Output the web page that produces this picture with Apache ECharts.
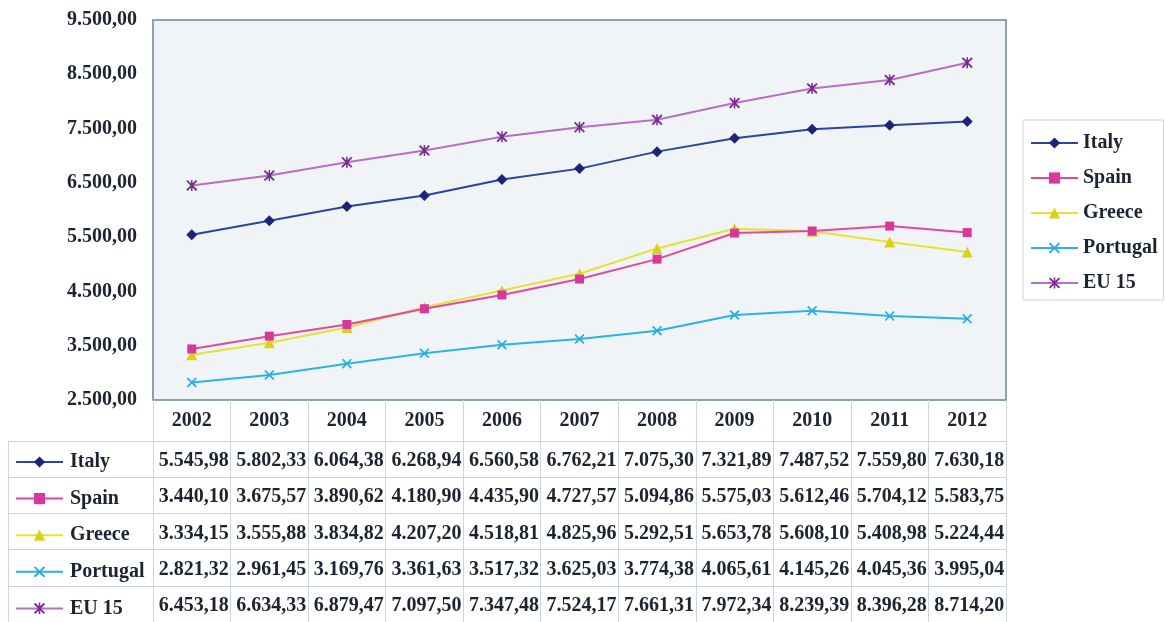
<!DOCTYPE html>
<html><head><meta charset="utf-8">
<script src="https://cdn.jsdelivr.net/npm/echarts@6/dist/echarts.min.js"></script>
<style>html,body{margin:0;padding:0;background:#fff}#c{width:1165px;height:622px}</style>
</head><body><div id="c"></div>
<script>
const years = ['2002','2003','2004','2005','2006','2007','2008','2009','2010','2011','2012'];
const seriesNames = ['Italy','Spain','Greece','Portugal','EU 15'];
const italy    = [5545.98,5802.33,6064.38,6268.94,6560.58,6762.21,7075.30,7321.89,7487.52,7559.80,7630.18];
const spain    = [3440.10,3675.57,3890.62,4180.90,4435.90,4727.57,5094.86,5575.03,5612.46,5704.12,5583.75];
const greece   = [3334.15,3555.88,3834.82,4207.20,4518.81,4825.96,5292.51,5653.78,5608.10,5408.98,5224.44];
const portugal = [2821.32,2961.45,3169.76,3361.63,3517.32,3625.03,3774.38,4065.61,4145.26,4045.36,3995.04];
const eu15     = [6453.18,6634.33,6879.47,7097.50,7347.48,7524.17,7661.31,7972.34,8239.39,8396.28,8714.20];
const yMin = 2500, yMax = 9500, yStep = 1000;

const allValues = [italy, spain, greece, portugal, eu15];
const lineColors = ['#2c44a0','#e2489f','#e6e132','#2ab4e4','#b56fc4'];
const markColors = ['#1b2478','#d8389a','#d8d21a','#22aee0','#7a2c90'];
const symbols = [
  'diamond',
  'rect',
  'triangle',
  'path://M0,1.2L1.2,0L5,3.8L8.8,0L10,1.2L6.2,5L10,8.8L8.8,10L5,6.2L1.2,10L0,8.8L3.8,5Z',
  'path://M0,1.2L1.2,0L5,3.8L8.8,0L10,1.2L6.2,5L10,8.8L8.8,10L5,6.2L1.2,10L0,8.8L3.8,5Z M4.3,0L5.7,0L5.7,10L4.3,10Z'
];
const symSizes = [11, 9, 11, 10, 11];

function fmt(v){
  const s = v.toFixed(2).split('.');
  return s[0].replace(/\B(?=(\d{3})+(?!\d))/g,'.') + ',' + s[1];
}
const FONT = 'Liberation Serif';
const TXT = '#1b2430';
const GRIDLINE = '#c9d6e2';
const FW = 'bold';

const tableData = [];
allValues.forEach((arr, r) => arr.forEach((v, c) => tableData.push([c, r, v])));

const chart = echarts.init(document.getElementById('c'), null, {renderer:'canvas'});
const lineSeries = seriesNames.map((n, i) => ({
  name: n, type: 'line', xAxisIndex: 0, yAxisIndex: 0,
  data: allValues[i], symbol: symbols[i], symbolSize: symSizes[i],
  showSymbol: true,
  lineStyle: {color: lineColors[i], width: 2},
  itemStyle: {color: markColors[i], borderWidth: 0},
  emphasis: {disabled: true}, animation: false, z: 3 + (4 - i)
}));

chart.setOption({
  animation: false,
  textStyle: {fontFamily: FONT},
  grid: [
    {left: 153, top: 20, width: 853, height: 380, show: true, backgroundColor: '#f1f4f6', borderColor: '#8aa2b4', borderWidth: 2},
    {left: 153, top: 441, width: 853, height: 183, show: false},
    {left: 8, top: 441, width: 145, height: 183, show: false}
  ],
  xAxis: [
    {gridIndex: 0, type: 'category', data: years, boundaryGap: true,
     axisLine: {show: false},
     axisTick: {show: true, interval: 0, length: 41, lineStyle: {color: GRIDLINE, width: 1}},
     axisLabel: {margin: 11, fontSize: 20, color: TXT, fontFamily: FONT, fontWeight: FW, interval: 0},
     splitLine: {show: false}},
    {gridIndex: 1, type: 'category', data: years, boundaryGap: true,
     axisLine: {show: false}, axisTick: {show: false}, axisLabel: {show: false},
     splitLine: {show: true, interval: 0, lineStyle: {color: GRIDLINE, width: 1}}},
    {gridIndex: 2, type: 'category', data: ['series'], boundaryGap: true,
     axisLine: {show: false}, axisTick: {show: false}, axisLabel: {show: false},
     splitLine: {show: true, interval: 0, lineStyle: {color: GRIDLINE, width: 1}}}
  ],
  yAxis: [
    {gridIndex: 0, type: 'value', min: yMin, max: yMax, interval: yStep,
     axisLine: {show: false}, axisTick: {show: false}, splitLine: {show: false},
     axisLabel: {margin: 16, fontSize: 20, color: TXT, fontFamily: FONT, fontWeight: FW, formatter: v => fmt(v)}},
    {gridIndex: 1, type: 'category', data: seriesNames, inverse: true, boundaryGap: true,
     axisLine: {show: false}, axisTick: {show: false}, axisLabel: {show: false},
     splitLine: {show: true, interval: 0, lineStyle: {color: GRIDLINE, width: 1}}},
    {gridIndex: 2, type: 'category', data: seriesNames, inverse: true, boundaryGap: true,
     axisLine: {show: false}, axisTick: {show: false}, axisLabel: {show: false},
     splitLine: {show: true, interval: 0, lineStyle: {color: GRIDLINE, width: 1}}}
  ],
  legend: [
    {data: seriesNames, orient: 'vertical', left: 1023, top: 120,
     padding: [13, 6, 7, 7], itemGap: 15, itemWidth: 47, itemHeight: 14,
     backgroundColor: '#ffffff', borderColor: '#ccd5dd', borderWidth: 1,
     textStyle: {fontSize: 20, color: TXT, fontFamily: FONT, fontWeight: FW},
     selectedMode: false},
    {data: seriesNames, orient: 'vertical', left: 15, top: 452,
     padding: 0, itemGap: 16.6, itemWidth: 47, itemHeight: 14,
     textStyle: {fontSize: 20, color: TXT, fontFamily: FONT, fontWeight: FW, padding: [0,0,0,2]},
     selectedMode: false}
  ],
  series: lineSeries.concat([{
    name: 'table', type: 'custom', xAxisIndex: 1, yAxisIndex: 1,
    coordinateSystem: 'cartesian2d', data: tableData, silent: true,
    renderItem: function (params, api) {
      const p = api.coord([api.value(0), api.value(1)]);
      return {type: 'text', x: p[0] + 2, y: p[1] + 2,
        style: {text: fmt(api.value(2)), fill: TXT, fontSize: 20, fontFamily: FONT, fontWeight: FW,
                align: 'center', verticalAlign: 'middle'}};
    }
  }])
});
</script>
</body></html>
